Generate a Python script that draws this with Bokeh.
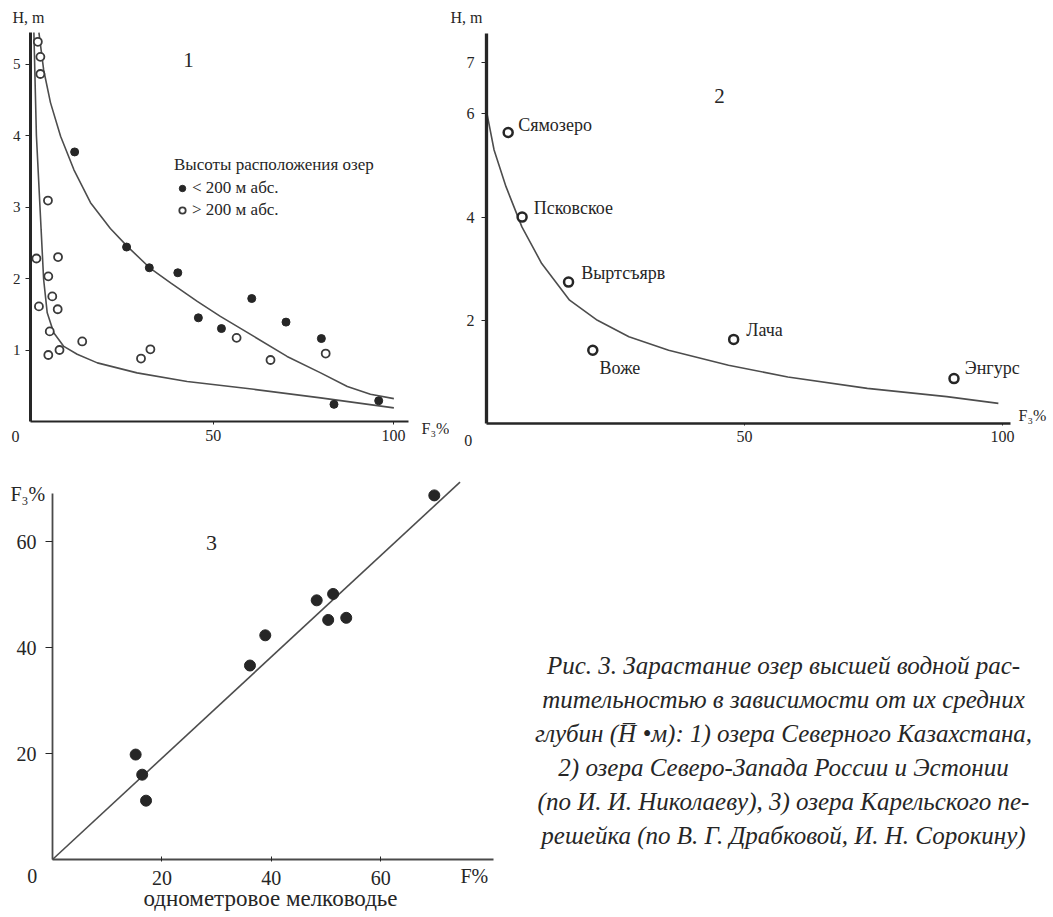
from bokeh.plotting import figure
from bokeh.models import (Range1d, FixedTicker, Label, LabelSet, ColumnDataSource,
                          Legend, LegendItem)
from bokeh.layouts import row, column
from bokeh.embed import file_html
from bokeh.resources import INLINE

# ---------------- data ----------------
# Panel 1: lakes of Northern Kazakhstan
p1_low_x = [11.6, 26.0, 32.3, 40.2, 45.9, 52.3, 60.7, 70.2, 80.0, 83.5, 95.9]      # altitude < 200 m
p1_low_y = [3.77, 2.44, 2.15, 2.08, 1.45, 1.30, 1.72, 1.39, 1.16, 0.24, 0.29]
p1_high_x = [1.4, 2.1, 2.1, 4.2, 1.0, 7.0, 4.3, 5.4, 1.7, 6.9, 4.7, 4.3, 7.4, 13.7,
             30.0, 32.6, 56.5, 65.9, 81.2]                                          # altitude > 200 m
p1_high_y = [5.31, 5.10, 4.86, 3.09, 2.28, 2.30, 2.03, 1.75, 1.61, 1.57, 1.26, 0.93,
             1.00, 1.12, 0.88, 1.01, 1.17, 0.86, 0.95]
p1_curve_up_x = [1.7, 3.0, 4.9, 7.7, 11.4, 16.0, 21.5, 26.2, 32.4, 38.2, 45.6, 52.0,
                 61.3, 70.5, 79.8, 87.2, 93.6, 100.1]
p1_curve_up_y = [5.44, 4.92, 4.46, 3.99, 3.52, 3.06, 2.70, 2.45, 2.15, 1.94, 1.68, 1.47,
                 1.19, 0.91, 0.68, 0.49, 0.38, 0.32]
p1_curve_lo_x = [0.3, 1.0, 2.3, 3.0, 4.0, 5.8, 8.6, 12.3, 17.9, 28.9, 42.8, 61.3, 79.8, 100.1]
p1_curve_lo_y = [5.44, 4.0, 2.69, 1.99, 1.52, 1.24, 1.05, 0.94, 0.82, 0.68, 0.56, 0.45, 0.33, 0.19]

# Panel 2: lakes of North-West Russia and Estonia
p2_names = ["Сямозеро", "Псковское", "Выртсъярв", "Воже", "Лача", "Энгурс"]
p2_x = [4.2, 6.9, 15.9, 20.6, 47.9, 90.6]
p2_y = [5.64, 4.00, 2.74, 1.42, 1.63, 0.87]
p2_curve_x = [0.16, 1.47, 3.78, 6.86, 10.7, 16.1, 21.5, 27.6, 35.3, 46.9, 58.4, 73.8, 89.2, 99.2]
p2_curve_y = [5.97, 5.30, 4.59, 3.81, 3.10, 2.39, 2.00, 1.68, 1.42, 1.13, 0.90, 0.68, 0.52, 0.39]

# Panel 3: lakes of the Karelian Isthmus
p3_x = [69.8, 48.3, 51.3, 50.4, 53.7, 38.9, 36.1, 15.2, 16.4, 17.1]
p3_y = [68.7, 48.9, 50.1, 45.2, 45.6, 42.3, 36.6, 19.8, 16.0, 11.1]
p3_line_x = [0, 74.5]
p3_line_y = [0, 71.2]

# tick labels
p1_xticks = [50, 100]
p1_yticks = [1, 2, 3, 4, 5]
p2_xticks = [50, 100]
p2_yticks = [2, 4, 6, 7]
p3_xticks = [20, 40, 60]
p3_yticks = [20, 40, 60]

caption_lines = [
    "Рис. 3. Зарастание озер высшей водной рас-",
    "тительностью в зависимости от их средних",
    "глубин (H\u0305 •м): 1) озера Северного Казахстана,",
    "2) озера Северо-Запада России и Эстонии",
    "(по И. И. Николаеву), 3) озера Карельского пе-",
    "решейка (по В. Г. Драбковой, И. Н. Сорокину)",
]

# ---------------- style ----------------
SERIF = "Liberation Serif"
INK = "#262626"
CURVE = "#4d4d4d"


def base_fig(w, h, xr, yr):
    p = figure(width=w, height=h, x_range=Range1d(*xr), y_range=Range1d(*yr),
               output_backend="svg", toolbar_location=None,
               min_border=0, min_border_left=0, min_border_bottom=0,
               min_border_top=0, min_border_right=0)
    p.grid.visible = False
    p.outline_line_color = None
    p.background_fill_color = "white"
    p.border_fill_color = "white"
    for ax in (p.xaxis[0], p.yaxis[0]):
        ax.minor_tick_line_color = None
        ax.major_label_text_font = SERIF
        ax.major_label_text_color = INK
        ax.axis_line_color = INK
        ax.major_tick_line_color = INK
        ax.major_tick_in = 0
    return p


def add_text(p, x, y, txt, size, align="left", style="normal", baseline="middle"):
    p.add_layout(Label(x=x, y=y, text=txt, text_font=SERIF, text_font_size=size,
                       text_align=align, text_baseline=baseline, text_color=INK,
                       text_font_style=style))


# ---------------- panel 1 ----------------
def c1x(px):
    return (px - 32.3) / 3.607

def c1y(py):
    return (421 - py) / 71.5

p1 = base_fig(449, 458, (c1x(0), c1x(449)), (c1y(458), c1y(0)))
p1.xaxis.ticker = FixedTicker(ticks=p1_xticks)
p1.yaxis.ticker = FixedTicker(ticks=p1_yticks)
p1.xaxis.fixed_location = 0
p1.yaxis.fixed_location = c1x(30)
p1.xaxis.bounds = (c1x(30), c1x(408))
p1.yaxis.bounds = (0, c1y(32))
p1.yaxis.axis_line_width = 3
p1.xaxis.axis_line_width = 2
p1.xaxis.major_tick_out = 3
p1.yaxis.major_tick_out = 5
p1.xaxis.major_label_standoff = 5
p1.yaxis.major_label_standoff = 5
p1.xaxis.major_label_text_font_size = "16px"
p1.yaxis.major_label_text_font_size = "15px"

p1.line(p1_curve_up_x, p1_curve_up_y, line_color=CURVE, line_width=1.6)
p1.line(p1_curve_lo_x, p1_curve_lo_y, line_color=CURVE, line_width=1.6)
r_low = p1.scatter(p1_low_x, p1_low_y, size=8, fill_color=INK, line_color=INK)
r_high = p1.scatter(p1_high_x, p1_high_y, size=8, fill_color="white",
                    line_color="#3a3a3a", line_width=1.8)

legend = Legend(items=[LegendItem(label="< 200 м абс.", renderers=[r_low]),
                       LegendItem(label="> 200 м абс.", renderers=[r_high])],
                title="Высоты расположения озер", location=(174, 458 - 221),
                title_text_font=SERIF, title_text_font_size="17px",
                title_text_font_style="normal", title_text_color=INK,
                label_text_font=SERIF, label_text_font_size="17px", label_text_color=INK,
                padding=0, margin=0, spacing=0, glyph_width=16, glyph_height=22,
                label_height=22, label_standoff=2, title_standoff=2,
                border_line_color=None, background_fill_alpha=0)
p1.add_layout(legend)

add_text(p1, c1x(12), c1y(17), "H, m", "16px")
add_text(p1, c1x(188), c1y(59), "1", "21px", align="center")
add_text(p1, c1x(15), c1y(436), "0", "16px", align="center")
add_text(p1, c1x(421), c1y(428), "F\u2083%", "16px")

# ---------------- panel 2 ----------------
X2 = 449  # left edge of panel 2 on the page

def c2x(px):
    return (px - 486) / 5.16

def c2y(py):
    return (423 - py) / 51.6

p2 = base_fig(1052 - X2, 458, (c2x(X2), c2x(1052)), (c2y(458), c2y(0)))
p2.xaxis.ticker = FixedTicker(ticks=p2_xticks)
p2.yaxis.ticker = FixedTicker(ticks=p2_yticks)
p2.xaxis.fixed_location = 0
p2.yaxis.fixed_location = 0
p2.xaxis.bounds = (0, c2x(1010))
p2.yaxis.bounds = (0, c2y(33))
p2.yaxis.axis_line_width = 3.3
p2.xaxis.axis_line_width = 2.5
p2.xaxis.major_tick_out = 2
p2.yaxis.major_tick_out = 5
p2.xaxis.major_label_standoff = 5
p2.yaxis.major_label_standoff = 7
p2.xaxis.major_label_text_font_size = "16px"
p2.yaxis.major_label_text_font_size = "16px"

p2.line(p2_curve_x, p2_curve_y, line_color=CURVE, line_width=1.6)
src2 = ColumnDataSource(dict(x=p2_x, y=p2_y, name=p2_names))
p2.scatter("x", "y", source=src2, size=9, fill_color="white", line_color=INK, line_width=2.5)

label_dx = [10, 11.6, 12.7, 6.8, 12.6, 10.8]
label_dy = [7, 9.4, 9, -18, 9.3, 10.3]
src2.data["dx"] = label_dx
src2.data["dy"] = label_dy
p2.add_layout(LabelSet(x="x", y="y", text="name", source=src2, x_offset="dx", y_offset="dy",
                       text_font=SERIF, text_font_size="18px", text_baseline="middle",
                       text_color=INK))

add_text(p2, c2x(450), c2y(17), "H, m", "16px")
add_text(p2, c2x(719), c2y(95), "2", "21px", align="center")
add_text(p2, c2x(467.7), c2y(440), "0", "16px", align="center")
add_text(p2, c2x(1018), c2y(415), "F\u2083%", "16px")

# ---------------- panel 3 + caption ----------------
Y3 = 458  # top edge of the lower figure on the page

def c3x(px):
    return (px - 52) / 5.47

def c3y(py):
    return (859 - py) / 5.30

p3 = base_fig(1052, 916 - Y3, (c3x(0), c3x(1052)), (c3y(916), c3y(Y3)))
p3.xaxis.ticker = FixedTicker(ticks=p3_xticks)
p3.yaxis.ticker = FixedTicker(ticks=p3_yticks)
p3.xaxis.fixed_location = 0
p3.yaxis.fixed_location = 0
p3.xaxis.bounds = (0, c3x(493))
p3.yaxis.bounds = (0, c3y(493))
for ax in (p3.xaxis[0], p3.yaxis[0]):
    ax.axis_line_width = 1.8
    ax.axis_line_color = "#4a4a4a"
    ax.major_label_text_font_size = "20px"
p3.xaxis.major_tick_in = 3
p3.xaxis.major_tick_out = 2
p3.yaxis.major_tick_out = 7
p3.xaxis.major_label_standoff = 9
p3.yaxis.major_label_standoff = 9

p3.line(p3_line_x, p3_line_y, line_color=CURVE, line_width=1.6)
p3.scatter(p3_x, p3_y, size=11, fill_color=INK, line_color=INK)

add_text(p3, c3x(10), c3y(493), "F\u2083%", "20px")
add_text(p3, c3x(211), c3y(542), "3", "22px", align="center")
add_text(p3, c3x(31.7), c3y(875), "0", "20px", align="center")
add_text(p3, c3x(460), c3y(875), "F%", "20px")
add_text(p3, c3x(270), c3y(898), "однометровое мелководье", "23px", align="center")

for i, line in enumerate(caption_lines):
    p3.add_layout(Label(x=c3x(783), y=c3y(665 + 34 * i), text=line,
                        text_font=SERIF, text_font_style="italic", text_font_size="25px",
                        text_align="center", text_baseline="middle", text_color=INK))

layout = column(row(p1, p2), p3)
open("out.html", "w").write(file_html(layout, INLINE))
